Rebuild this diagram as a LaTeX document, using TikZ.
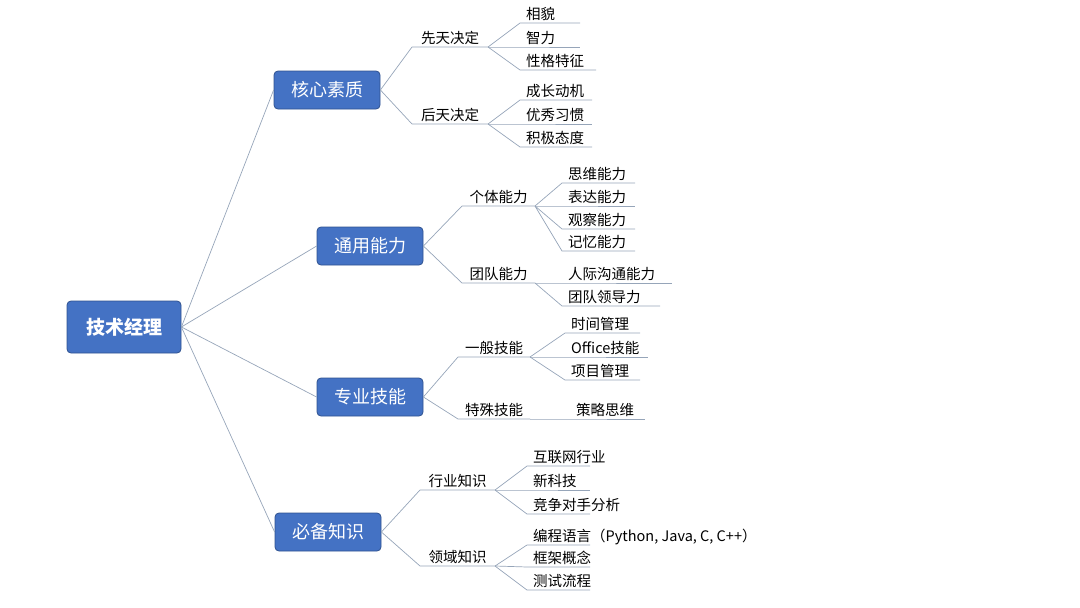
\documentclass[tikz,border=0pt]{standalone}
\usepackage{fontspec}
\newfontfamily\cjk{Noto Sans CJK SC}
\begin{document}
\begin{tikzpicture}[x=1pt,y=-1pt,
  box/.style={draw={rgb,255:red,47;green,82;blue,143},rounded corners=4pt,fill={rgb,255:red,68;green,114;blue,196},text=white,font=\cjk\fontsize{18}{20}\selectfont,minimum height=38,minimum width=106,line width=0.8pt},
  lbl/.style={font=\cjk\fontsize{14.5}{16}\selectfont,anchor=base,inner sep=0},
  ln/.style={draw={rgb,255:red,150;green,165;blue,185},line width=0.7pt}]
\useasboundingbox (0,0) rectangle (1080,608);
\node[box,minimum width=114,minimum height=52,font=\cjk\bfseries\fontsize{19}{21}\selectfont] (root) at (124,327) {技术经理};
\node[box] (A) at (327,90) {核心素质};
\node[box] (B) at (370,246) {通用能力};
\node[box] (C) at (370,397) {专业技能};
\node[box] (D) at (328,532) {必备知识};
\foreach \b in {A,B,C,D} \draw[ln] (root.east) -- (\b.west);
\newcommand\midnode[6]{%
  \coordinate (#1s) at (#3,#5); \coordinate (#1e) at (#4,#5);
  \node[lbl] (#1) at ({(#3+#4)/2},{#5-4}) {#2};
  \draw[ln] (#6.east) -- (#1s) -- (#1e);}
\newcommand\leafnode[6]{%
  \coordinate (#1s) at (#3,#5); \coordinate (#1e) at (#4,#5);
  \node[lbl,anchor=base west] (#1) at (#3+6,{#5-4}) {#2};
  \draw[ln] (#6e) -- (#1s) -- (#1e);}
\midnode{a1}{先天决定}{412}{488}{47}{A}
\leafnode{a11}{相貌}{520}{580}{23}{a1}
\leafnode{a12}{智力}{520}{580}{47}{a1}
\leafnode{a13}{性格特征}{520}{596}{70}{a1}
\midnode{a2}{后天决定}{412}{488}{124}{A}
\leafnode{a21}{成长动机}{520}{592}{100}{a2}
\leafnode{a22}{优秀习惯}{520}{592}{124}{a2}
\leafnode{a23}{积极态度}{520}{592}{147}{a2}
\midnode{b1}{个体能力}{462}{535}{206}{B}
\leafnode{b11}{思维能力}{562}{635}{183}{b1}
\leafnode{b12}{表达能力}{562}{635}{206}{b1}
\leafnode{b13}{观察能力}{562}{635}{229}{b1}
\leafnode{b14}{记忆能力}{562}{635}{251}{b1}
\midnode{b2}{团队能力}{462}{535}{283}{B}
\leafnode{b21}{人际沟通能力}{562}{672}{283}{b2}
\leafnode{b22}{团队领导力}{562}{660}{306}{b2}
\midnode{c1}{一般技能}{458}{530}{357}{C}
\leafnode{c11}{时间管理}{565}{640}{333}{c1}
\leafnode{c12}{Office技能}{565}{648}{357}{c1}
\leafnode{c13}{项目管理}{565}{640}{380}{c1}
\midnode{c2}{特殊技能}{458}{530}{419}{C}
\leafnode{c21}{策略思维}{570}{645}{419}{c2}
\midnode{d1}{行业知识}{420}{495}{490}{D}
\leafnode{d11}{互联网行业}{527}{590}{466}{d1}
\leafnode{d12}{新科技}{527}{590}{490}{d1}
\leafnode{d13}{竞争对手分析}{527}{590}{514}{d1}
\midnode{d2}{领域知识}{420}{495}{566}{D}
\leafnode{d21}{编程语言（Python, Java, C, C++）}{527}{590}{545}{d2}
\leafnode{d22}{框架概念}{527}{590}{567}{d2}
\leafnode{d23}{测试流程}{527}{590}{590}{d2}
\end{tikzpicture}
\end{document}
